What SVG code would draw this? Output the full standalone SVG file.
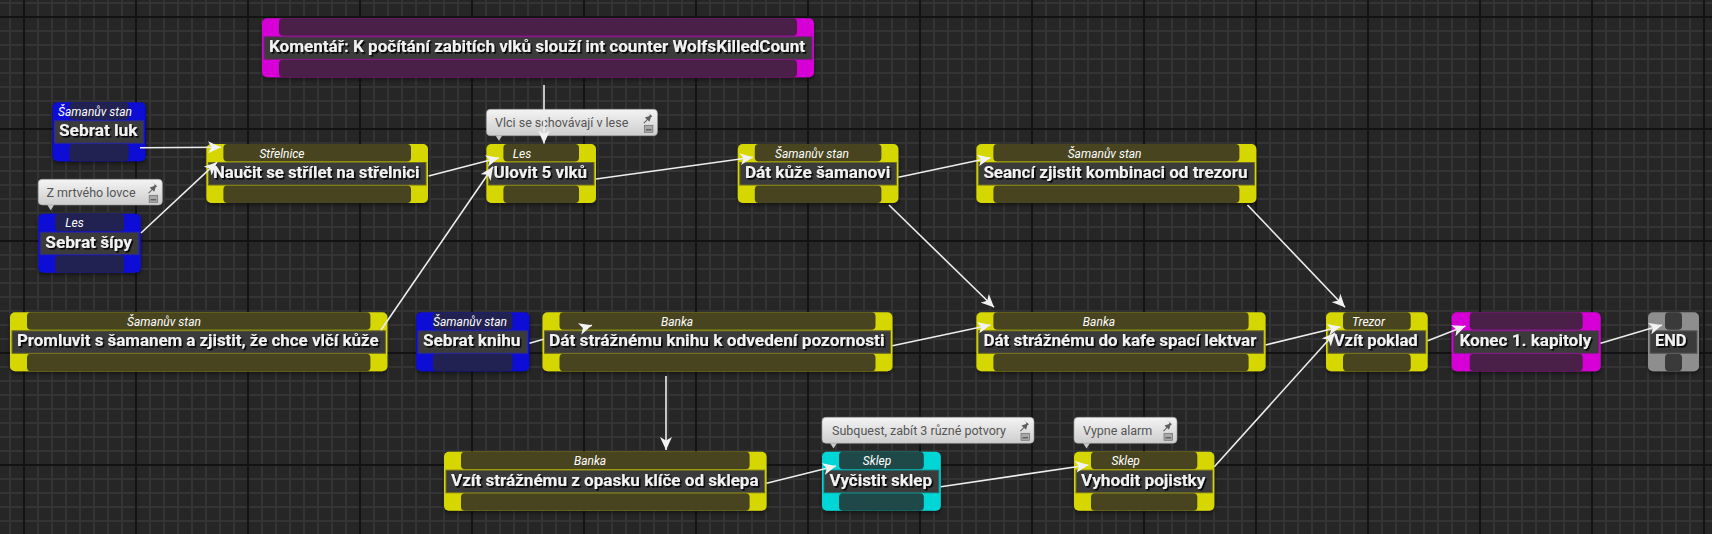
<svg xmlns="http://www.w3.org/2000/svg" width="1712" height="534" viewBox="0 0 1712 534">
<defs>
<pattern id="grid" x="23" y="16" width="112" height="112" patternUnits="userSpaceOnUse">
<rect width="112" height="112" fill="#262626"/>
<path d="M15 0V112M29 0V112M43 0V112M57 0V112M71 0V112M85 0V112M99 0V112M0 15H112M0 29H112M0 43H112M0 57H112M0 71H112M0 85H112M0 99H112" stroke="#343434" stroke-width="2"/>
<path d="M1 0V112M0 1H112" stroke="#131313" stroke-width="2"/>
</pattern>
<filter id="ts" x="-5%" y="-30%" width="110%" height="160%">
<feDropShadow dx="1.6" dy="1.6" stdDeviation="0.5" flood-color="#000" flood-opacity="0.95"/>
</filter>
<filter id="ns" x="-10%" y="-10%" width="120%" height="130%">
<feDropShadow dx="0" dy="2" stdDeviation="2" flood-color="#000" flood-opacity="0.5"/>
</filter>
<linearGradient id="tipg" x1="0" y1="0" x2="0" y2="1">
<stop offset="0" stop-color="#f4f4f4"/>
<stop offset="1" stop-color="#cdcdcd"/>
</linearGradient>
<marker id="arr" markerUnits="userSpaceOnUse" markerWidth="14" markerHeight="12" refX="13" refY="6" orient="auto">
<path d="M0,0 L13,6 L0,12 L3.5,6 Z" fill="#f2f2f2"/>
</marker>
<g id="pin">
<path d="M3.5,0 L9,4.5 L7.5,5.5 L6,10 L4.2,8.2 L0.8,11.6 L0,11 L3.4,7.6 L1.5,5.8 L6,4.2 L6.5,2.6 Z" fill="#5e5e5e"/>
<rect x="1" y="13.5" width="8.5" height="7" fill="#a8a8a8" stroke="#6e6e6e" stroke-width="0.7"/>
<path d="M2.5 18h5.5" stroke="#505050" stroke-width="1.2"/>
</g>
</defs>
<style>
.o{filter:url(#ns)}
.yellow .o{fill:#d6d600}
.yellow .b{fill:#47441f}
.yellow .t{stroke:#6e6b25}
.blue .o{fill:#0a0ad6}
.blue .b{fill:#222252}
.blue .t{stroke:#2a2a9a}
.cyan .o{fill:#00d6d6}
.cyan .b{fill:#1f4848}
.cyan .t{stroke:#1f7070}
.magenta .o{fill:#d600d6}
.magenta .b{fill:#4a2049}
.magenta .t{stroke:#7a207a}
.gray .o{fill:#8e8e8e}
.gray .b{fill:#3a3a3a}
.gray .t{stroke:#5a5a5a}
.t{fill:#3b3b3b;stroke-width:1}
.title{font-family:Roboto,"Noto Sans",sans-serif;font-style:italic;font-size:12px;fill:#ffffff;text-anchor:middle}
.label{font-family:Roboto,"Noto Sans",sans-serif;font-weight:bold;font-size:16.5px;fill:#f2f2f2;filter:url(#ts)}
.tip rect{fill:url(#tipg);stroke:#9a9a9a;stroke-width:0.6}
.tip path.tail{fill:#c8c8c8}
.tip text{font-family:Roboto,"Noto Sans",sans-serif;font-size:12.5px;fill:#555555}
.conn path{fill:none;stroke:#ededed;stroke-width:1.6;marker-end:url(#arr)}
</style>
<rect width="1712" height="534" fill="url(#grid)"/>

<g id="comment" class="node magenta" transform="translate(262,18.3)">
<rect class="o" width="552" height="59" rx="5"/>
<rect class="b" x="17" width="518" height="17.5" rx="4"/>
<rect class="b" x="17" y="41.5" width="518" height="17.5" rx="4"/>
<rect class="t" x="2" y="18.5" width="548" height="22.5"/>
<text class="label" x="7" y="34" textLength="536" lengthAdjust="spacingAndGlyphs">Komentář: K počítání zabitích vlků slouží int counter WolfsKilledCount</text>
</g>

<g id="sebrat-luk" class="node blue" transform="translate(52.5,102.3)">
<rect class="o" width="93.2" height="59" rx="5"/>
<rect class="b" x="17" width="59.2" height="17.5" rx="4"/>
<rect class="b" x="17" y="41.5" width="59.2" height="17.5" rx="4"/>
<rect class="t" x="2" y="18.5" width="89.2" height="22.5"/>
<text class="title" x="42.5" y="13.5">Šamanův stan</text>
<text class="label" x="6.5" y="34" textLength="78.5" lengthAdjust="spacingAndGlyphs">Sebrat luk</text>
</g>

<g id="sebrat-sipy" class="node blue" transform="translate(38.2,213.7)">
<rect class="o" width="102.8" height="59" rx="5"/>
<rect class="b" x="17" width="68.8" height="17.5" rx="4"/>
<rect class="b" x="17" y="41.5" width="68.8" height="17.5" rx="4"/>
<rect class="t" x="2" y="18.5" width="98.8" height="22.5"/>
<text class="title" x="36.3" y="13.5">Les</text>
<text class="label" x="7.1" y="34" textLength="86.7" lengthAdjust="spacingAndGlyphs">Sebrat šípy</text>
</g>

<g id="naucit" class="node yellow" transform="translate(206.4,144)">
<rect class="o" width="221.6" height="59" rx="5"/>
<rect class="b" x="17" width="187.6" height="17.5" rx="4"/>
<rect class="b" x="17" y="41.5" width="187.6" height="17.5" rx="4"/>
<rect class="t" x="2" y="18.5" width="217.6" height="22.5"/>
<text class="title" x="75.6" y="13.5">Střelnice</text>
<text class="label" x="6.6" y="34" textLength="206.5" lengthAdjust="spacingAndGlyphs">Naučit se střílet na střelnici</text>
</g>

<g id="ulovit" class="node yellow" transform="translate(486.4,144)">
<rect class="o" width="109.6" height="59" rx="5"/>
<rect class="b" x="17" width="75.6" height="17.5" rx="4"/>
<rect class="b" x="17" y="41.5" width="75.6" height="17.5" rx="4"/>
<rect class="t" x="2" y="18.5" width="105.6" height="22.5"/>
<text class="title" x="35.6" y="13.5">Les</text>
<text class="label" x="7.2" y="34" textLength="93.5" lengthAdjust="spacingAndGlyphs">Ulovit 5 vlků</text>
</g>

<g id="dat-kuze" class="node yellow" transform="translate(737.8,144)">
<rect class="o" width="160.6" height="59" rx="5"/>
<rect class="b" x="17" width="126.6" height="17.5" rx="4"/>
<rect class="b" x="17" y="41.5" width="126.6" height="17.5" rx="4"/>
<rect class="t" x="2" y="18.5" width="156.6" height="22.5"/>
<text class="title" x="74.2" y="13.5">Šamanův stan</text>
<text class="label" x="7.2" y="34" textLength="145.3" lengthAdjust="spacingAndGlyphs">Dát kůže šamanovi</text>
</g>

<g id="seanci" class="node yellow" transform="translate(976.4,144)">
<rect class="o" width="280" height="59" rx="5"/>
<rect class="b" x="17" width="246" height="17.5" rx="4"/>
<rect class="b" x="17" y="41.5" width="246" height="17.5" rx="4"/>
<rect class="t" x="2" y="18.5" width="276" height="22.5"/>
<text class="title" x="128.2" y="13.5">Šamanův stan</text>
<text class="label" x="7" y="34" textLength="264" lengthAdjust="spacingAndGlyphs">Seancí zjistit kombinaci od trezoru</text>
</g>

<g id="promluvit" class="node yellow" transform="translate(10,312.3)">
<rect class="o" width="377.4" height="59" rx="5"/>
<rect class="b" x="17" width="343.4" height="17.5" rx="4"/>
<rect class="b" x="17" y="41.5" width="343.4" height="17.5" rx="4"/>
<rect class="t" x="2" y="18.5" width="373.4" height="22.5"/>
<text class="title" x="154" y="13.5">Šamanův stan</text>
<text class="label" x="7" y="34" textLength="361.5" lengthAdjust="spacingAndGlyphs">Promluvit s šamanem a zjistit, že chce vlčí kůže</text>
</g>

<g id="sebrat-knihu" class="node blue" transform="translate(416,312.3)">
<rect class="o" width="113.5" height="59" rx="5"/>
<rect class="b" x="17" width="79.5" height="17.5" rx="4"/>
<rect class="b" x="17" y="41.5" width="79.5" height="17.5" rx="4"/>
<rect class="t" x="2" y="18.5" width="109.5" height="22.5"/>
<text class="title" x="54" y="13.5">Šamanův stan</text>
<text class="label" x="7" y="34" textLength="97.5" lengthAdjust="spacingAndGlyphs">Sebrat knihu</text>
</g>

<g id="dat-knihu" class="node yellow" transform="translate(542.5,312.3)">
<rect class="o" width="350" height="59" rx="5"/>
<rect class="b" x="17" width="316" height="17.5" rx="4"/>
<rect class="b" x="17" y="41.5" width="316" height="17.5" rx="4"/>
<rect class="t" x="2" y="18.5" width="346" height="22.5"/>
<text class="title" x="134.5" y="13.5">Banka</text>
<text class="label" x="6.5" y="34" textLength="335.5" lengthAdjust="spacingAndGlyphs">Dát strážnému knihu k odvedení pozornosti</text>
</g>

<g id="dat-kafe" class="node yellow" transform="translate(976.4,312.3)">
<rect class="o" width="289.2" height="59" rx="5"/>
<rect class="b" x="17" width="255.2" height="17.5" rx="4"/>
<rect class="b" x="17" y="41.5" width="255.2" height="17.5" rx="4"/>
<rect class="t" x="2" y="18.5" width="285.2" height="22.5"/>
<text class="title" x="122.6" y="13.5">Banka</text>
<text class="label" x="7" y="34" textLength="273" lengthAdjust="spacingAndGlyphs">Dát strážnému do kafe spací lektvar</text>
</g>

<g id="vzit-poklad" class="node yellow" transform="translate(1326,312.3)">
<rect class="o" width="101.7" height="59" rx="5"/>
<rect class="b" x="17" width="67.7" height="17.5" rx="4"/>
<rect class="b" x="17" y="41.5" width="67.7" height="17.5" rx="4"/>
<rect class="t" x="2" y="18.5" width="97.7" height="22.5"/>
<text class="title" x="42.5" y="13.5">Trezor</text>
<text class="label" x="7.7" y="34" textLength="84" lengthAdjust="spacingAndGlyphs">Vzít poklad</text>
</g>

<g id="konec" class="node magenta" transform="translate(1451.7,312.3)">
<rect class="o" width="149" height="59" rx="5"/>
<rect class="b" x="18" width="113" height="17.5" rx="4"/>
<rect class="b" x="18" y="41.5" width="113" height="17.5" rx="4"/>
<rect class="t" x="2" y="18.5" width="145" height="22.5"/>
<text class="label" x="7.7" y="34" textLength="132" lengthAdjust="spacingAndGlyphs">Konec 1. kapitoly</text>
</g>

<g id="end" class="node gray" transform="translate(1648,312.3)">
<rect class="o" width="51" height="59" rx="5"/>
<rect class="b" x="17" width="17" height="17.5" rx="4"/>
<rect class="b" x="17" y="41.5" width="17" height="17.5" rx="4"/>
<rect class="t" x="2" y="18.5" width="47" height="22.5"/>
<text class="label" x="7" y="34" textLength="31.5" lengthAdjust="spacingAndGlyphs">END</text>
</g>

<g id="vzit-klice" class="node yellow" transform="translate(444,451.7)">
<rect class="o" width="322.6" height="59" rx="5"/>
<rect class="b" x="17" width="288.6" height="17.5" rx="4"/>
<rect class="b" x="17" y="41.5" width="288.6" height="17.5" rx="4"/>
<rect class="t" x="2" y="18.5" width="318.6" height="22.5"/>
<text class="title" x="146" y="13.5">Banka</text>
<text class="label" x="7" y="34" textLength="307.6" lengthAdjust="spacingAndGlyphs">Vzít strážnému z opasku klíče od sklepa</text>
</g>

<g id="vycistit" class="node cyan" transform="translate(822,451.7)">
<rect class="o" width="118.8" height="59" rx="5"/>
<rect class="b" x="17" width="84.8" height="17.5" rx="4"/>
<rect class="b" x="17" y="41.5" width="84.8" height="17.5" rx="4"/>
<rect class="t" x="2" y="18.5" width="114.8" height="22.5"/>
<text class="title" x="55" y="13.5">Sklep</text>
<text class="label" x="7.4" y="34" textLength="102.6" lengthAdjust="spacingAndGlyphs">Vyčistit sklep</text>
</g>

<g id="vyhodit" class="node yellow" transform="translate(1074,451.7)">
<rect class="o" width="140.3" height="59" rx="5"/>
<rect class="b" x="17" width="106.3" height="17.5" rx="4"/>
<rect class="b" x="17" y="41.5" width="106.3" height="17.5" rx="4"/>
<rect class="t" x="2" y="18.5" width="136.3" height="22.5"/>
<text class="title" x="51.7" y="13.5">Sklep</text>
<text class="label" x="7" y="34" textLength="124.4" lengthAdjust="spacingAndGlyphs">Vyhodit pojistky</text>
</g>

<g id="tip-lovce" class="tip" transform="translate(38.2,179.3)">
<path class="tail" d="M9,25.5 L16,25.5 L12.5,31 Z"/>
<rect width="124.2" height="25.7" rx="4"/>
<text x="8.2" y="17.5">Z mrtvého lovce</text>
<use href="#pin" x="110" y="2.5"/>
</g>

<g id="tip-vlci" class="tip" transform="translate(486.4,109.3)">
<path class="tail" d="M9,26 L16,26 L12.5,31.5 Z"/>
<rect width="171.1" height="26.4" rx="4"/>
<text x="8.6" y="17.8">Vlci se schovávají v lese</text>
<use href="#pin" x="157" y="2.5"/>
</g>

<g id="tip-subquest" class="tip" transform="translate(822,417.3)">
<path class="tail" d="M8,25.8 L15,25.8 L11.5,31.3 Z"/>
<rect width="212" height="26" rx="4"/>
<text x="10" y="17.8">Subquest, zabít 3 různé potvory</text>
<use href="#pin" x="198" y="2.5"/>
</g>

<g id="tip-alarm" class="tip" transform="translate(1074,417.3)">
<path class="tail" d="M9,25.8 L16,25.8 L12.5,31.3 Z"/>
<rect width="103" height="26" rx="4"/>
<text x="9" y="17.8">Vypne alarm</text>
<use href="#pin" x="89" y="2.5"/>
</g>

<g id="connectors" class="conn">
<path d="M140,147.7 L221,147.2"/>
<path d="M141,233 L217,162.2"/>
<path d="M428.6,176 L499,157.8"/>
<path d="M381,330 L493,166.8"/>
<path d="M544,85 L544,143.5"/>
<path d="M596,179 L753,157.3"/>
<path d="M898.4,177.3 L990.5,157.7"/>
<path d="M889,205 L994,307.3"/>
<path d="M1247.5,205 L1345,307.3"/>
<path d="M529.5,343.3 L543.5,339.3 M586,327 L592,325.2"/>
<path d="M892.4,345.7 L990.5,325"/>
<path d="M666,376 L666,450"/>
<path d="M1265.6,345 L1340.5,326.7"/>
<path d="M1214.3,466.7 L1335,332.8"/>
<path d="M1427.7,340.7 L1465.4,326"/>
<path d="M1600.6,343.3 L1662,325"/>
<path d="M766.6,483.3 L836,466"/>
<path d="M940.8,486.7 L1088.5,465"/>
</g>
</svg>
